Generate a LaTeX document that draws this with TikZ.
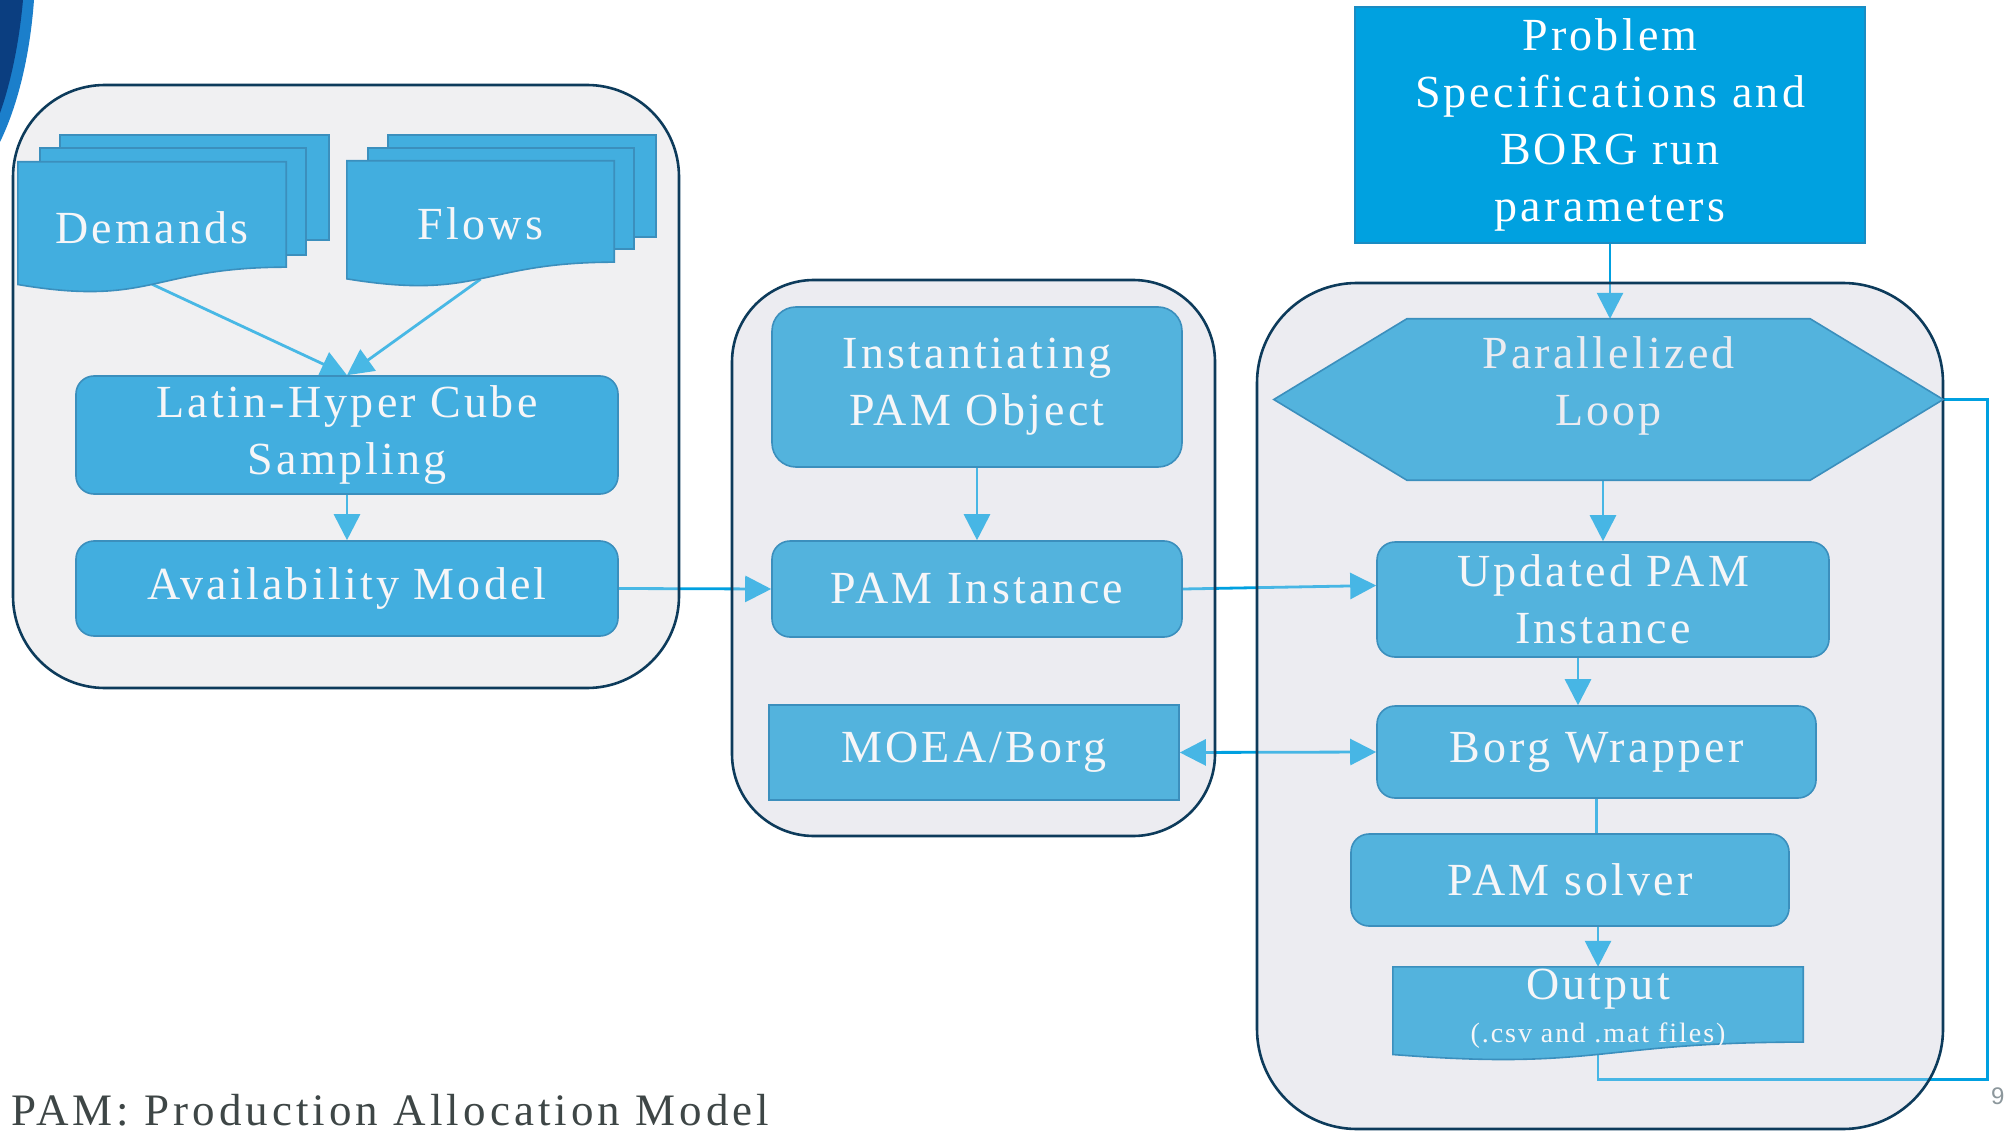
\documentclass[tikz,border=0pt]{standalone}
\usepackage{fontspec}
\setmainfont{Liberation Serif}[LetterSpace=7]
\newfontfamily\footfont{Liberation Serif}[LetterSpace=9]
\newfontfamily\pagenumfont{Liberation Sans}
\usetikzlibrary{arrows.meta,calc}

\definecolor{groupfillA}{HTML}{F0F0F2}
\definecolor{groupfillB}{HTML}{ECECF1}
\definecolor{groupedge}{HTML}{0D3B5B}
\definecolor{fillA}{HTML}{42AEDF}
\definecolor{fillB}{HTML}{53B3DD}
\definecolor{nodeedge}{HTML}{3B8FBD}
\definecolor{probfill}{HTML}{00A1E0}
\definecolor{probedge}{HTML}{1A8CC3}
\definecolor{linebright}{HTML}{00A0E0}
\definecolor{nodetext}{HTML}{F6F6F8}
\definecolor{hextext}{HTML}{ECECF1}
\definecolor{footgray}{HTML}{3E4646}
\definecolor{pagegray}{HTML}{8C979C}
\definecolor{swooshdark}{HTML}{0B3E80}
\definecolor{swooshlight}{HTML}{1B7FCB}

\newcommand\mainsize{\fontsize{46pt}{57pt}\selectfont}
\newcommand\notesize{\fontsize{28pt}{34pt}\selectfont}

\pgfdeclarelayer{paper}
\pgfdeclarelayer{base}
\pgfdeclarelayer{conn}
\pgfdeclarelayer{over}
\pgfdeclarelayer{shapes}
\pgfsetlayers{paper,base,conn,over,shapes,main}

\begin{document}
\begin{tikzpicture}[x=1pt,y=-1pt,
  box/.style={draw=nodeedge, line width=1.6pt, rounded corners=18pt, inner sep=0pt,
              align=center, text=nodetext, font=\mainsize},
  boxA/.style={box, fill=fillA},
  boxB/.style={box, fill=fillB},
  sqbox/.style={box, rounded corners=0pt, fill=fillB},
  probbox/.style={box, rounded corners=0pt, fill=probfill, draw=probedge, text=white},
  docnode/.style={inner sep=0pt, align=center, text=nodetext, font=\mainsize},
  docfillA/.style={fill=fillA, draw=nodeedge, line width=1.6pt},
  docfillB/.style={fill=fillB, draw=nodeedge, line width=1.6pt},
  hexnode/.style={inner sep=0pt},
  hexlabel/.style={align=center, text=hextext, font=\mainsize, inner sep=0pt, yshift=14pt},
  hexfill/.style={fill=fillB, draw=nodeedge, line width=1.6pt},
  conn/.style={draw=linebright, line width=2.8pt, -{Triangle[length=26pt,width=26pt]}},
  conntwo/.style={draw=linebright, line width=2.8pt, {Triangle[length=26pt,width=26pt]}-{Triangle[length=26pt,width=26pt]}},
  plainline/.style={draw=linebright, line width=2.8pt},
  groupover/.style={fill opacity=0.3, draw=groupedge, line width=2.6pt}
]
\useasboundingbox (0,0) rectangle (2004,1131);
\begin{pgfonlayer}{paper}
  \fill[white] (0,0) rectangle (2004,1131);
  % slide decoration
  \fill[swooshlight] (0,0) -- (34,0) .. controls (30,55) and (18,105) .. (0,142) -- cycle;
  \fill[swooshdark] (0,0) -- (23,0) .. controls (19,45) and (10,85) .. (0,113) -- cycle;
\end{pgfonlayer}

% ---------- nodes ----------
\node[docnode, minimum width=268pt, minimum height=131pt] (dem) at (152,227.5) {Demands};
\node[docnode, minimum width=267pt, minimum height=126pt] (flows) at (480.5,224) {Flows};
\node[boxA, minimum width=542pt, minimum height=118pt] (lhc) at (347,435) {Latin-Hyper Cube\\Sampling};
\node[boxA, minimum width=542pt, minimum height=95pt] (avail) at (347,588.5) {Availability Model};

\node[boxB, rounded corners=24pt, minimum width=410pt, minimum height=160pt] (inst) at (977,387) {Instantiating\\PAM Object};
\node[boxB, minimum width=410pt, minimum height=96pt] (pam) at (977,589) {PAM Instance};
\node[sqbox, minimum width=410pt, minimum height=95pt] (moea) at (974,752.5) {MOEA/Borg};

\node[probbox, minimum width=510pt, minimum height=236pt] (prob) at (1610,125) {Problem\\Specifications and\\BORG run\\parameters};
\node[hexnode, minimum width=669pt, minimum height=161pt,
      label={[hexlabel]center:{Parallelized\\Loop}}] (hex) at (1608.5,399.5) {};
\node[boxB, minimum width=452pt, minimum height=115pt] (upd) at (1603,599.5) {Updated PAM\\Instance};
\node[boxB, minimum width=439pt, minimum height=92pt] (bw) at (1596.5,752) {Borg Wrapper};
\node[boxB, minimum width=438pt, minimum height=92pt] (solver) at (1570,880) {PAM solver};
\node[docnode, minimum width=410pt, minimum height=93.5pt, font=\fontsize{46pt}{43pt}\selectfont]
      (out) at (1598,1013.75) {Output\\{\notesize(.csv and .mat files)\rule[-16pt]{0pt}{1pt}}};

\node[anchor=base west, inner sep=0pt, text=footgray, font=\footfont\fontsize{45pt}{50pt}\selectfont]
      (foot) at (11,1125) {PAM: Production Allocation Model};
\node[anchor=north west, inner sep=0pt, text=pagegray, font=\pagenumfont\fontsize{24pt}{24pt}\selectfont]
      (pg) at (1991,1088) {9};

% ---------- group containers (base) ----------
\begin{pgfonlayer}{base}
  \fill[groupfillA, rounded corners=92pt] (13,85) rectangle (679,688);
  \fill[groupfillB, rounded corners=82pt] (732,280) rectangle (1215,836);
  \fill[groupfillB, rounded corners=100pt] (1257,283) rectangle (1943,1129);
\end{pgfonlayer}

% ---------- connectors ----------
\begin{pgfonlayer}{conn}
  \draw[conn] ([yshift=9pt]dem.south) -- (lhc.north);
  \draw[conn] ([yshift=8pt]flows.south) -- (lhc.north);
  \draw[conn] (lhc.south) -- (avail.north);
  \draw[conn] (avail.east) -- (pam.west);
  \draw[conn] (inst.south) -- (pam.north);
  \draw[conn] (pam.east) -- ([yshift=14pt]upd.west);
  \draw[conntwo] (moea.east) -- (bw.west);
  \draw[conn] (prob.south) -- (prob.south |- hex.north);
  \draw[conn] (upd.north |- hex.south) -- (upd.north);
  \draw[conn] ([xshift=-25pt]upd.south) -- ([xshift=-25pt]upd.south |- bw.north);
  \draw[plainline] (bw.south) -- (bw.south |- solver.north);
  \draw[conn] (out.north |- solver.south) -- (out.north);
  \draw[plainline] (hex.east) -- ++(44,0) |- ([yshift=-18.5pt]out.south) -- ([yshift=6pt]out.south);
\end{pgfonlayer}

% ---------- group containers (overlay + border) ----------
\begin{pgfonlayer}{over}
  \path[groupover, fill=groupfillA, rounded corners=92pt] (13,85) rectangle (679,688);
  \path[groupover, fill=groupfillB, rounded corners=82pt] (732,280) rectangle (1215,836);
  \path[groupover, fill=groupfillB, rounded corners=100pt] (1257,283) rectangle (1943,1129);
\end{pgfonlayer}

% ---------- shapes ----------
\begin{pgfonlayer}{shapes}
  % Demands stack
  \path[docfillA] ([shift={(42,-27)}]dem.north west) rectangle ([shift={(43,78)}]dem.north east);
  \path[docfillA] ([shift={(22,-14)}]dem.north west) rectangle ([shift={(20,93)}]dem.north east);
  \path[docfillA] (dem.north west) -- (dem.north east) -- ($(dem.north east)!0.802!(dem.south east)$)
     .. controls ($(dem.north)!0.802!(dem.south)$) and ($(dem.north)!1.1075!(dem.south)$)
     .. ($(dem.north west)!0.934!(dem.south west)$) -- cycle;
  % Flows stack
  \path[docfillA] ([shift={(41,-26)}]flows.north west) rectangle ([shift={(42,76)}]flows.north east);
  \path[docfillA] ([shift={(21,-13)}]flows.north west) rectangle ([shift={(20,88)}]flows.north east);
  \path[docfillA] (flows.north west) -- (flows.north east) -- ($(flows.north east)!0.802!(flows.south east)$)
     .. controls ($(flows.north)!0.802!(flows.south)$) and ($(flows.north)!1.1075!(flows.south)$)
     .. ($(flows.north west)!0.934!(flows.south west)$) -- cycle;
  % Output document
  \path[docfillB] (out.north west) -- (out.north east) -- ($(out.north east)!0.802!(out.south east)$)
     .. controls ($(out.north)!0.802!(out.south)$) and ($(out.north)!1.1075!(out.south)$)
     .. ($(out.north west)!0.934!(out.south west)$) -- cycle;
  % Hexagon
  \path[hexfill] (hex.west) -- ([xshift=133pt]hex.north west) -- ([xshift=-133pt]hex.north east)
     -- (hex.east) -- ([xshift=-133pt]hex.south east) -- ([xshift=133pt]hex.south west) -- cycle;
\end{pgfonlayer}
\end{tikzpicture}
\end{document}
